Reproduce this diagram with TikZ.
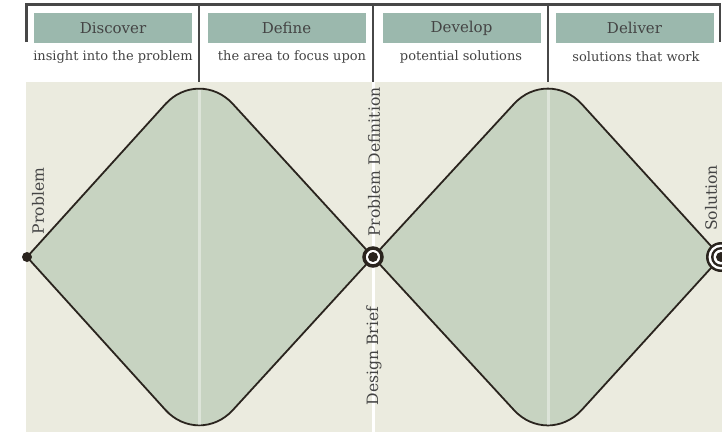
\documentclass[tikz,border=0pt]{standalone}
\usepackage{fontspec}
\setmainfont{DejaVu Serif}
\usepackage{xcolor}
\usetikzlibrary{calc}
\usetikzlibrary{positioning}
\definecolor{headgreen}{HTML}{9BB8AD}
\definecolor{leafgreen}{HTML}{C7D3C1}
\definecolor{paper}{HTML}{EBEBDF}
\definecolor{ink}{HTML}{444444}
\definecolor{rule}{HTML}{474747}
\definecolor{edge}{HTML}{2A241E}

\begin{document}
\begin{tikzpicture}[x=1pt,y=-1pt,
  phasebox/.style={fill=headgreen,minimum width=158pt,minimum height=30pt,inner sep=0pt,text=ink,font=\fontsize{15}{15}\selectfont},
  phasenote/.style={text=ink,inner sep=0pt,font=\fontsize{13}{13}\selectfont},
  sidelabel/.style={rotate=90,text=ink,inner sep=0pt,font=\fontsize{15.6}{15.6}\selectfont},
  stripe/.style={white,line width=3pt}]

  \useasboundingbox (0,0) rectangle (722,432);
  \fill[paper] (26,82) rectangle (722,432);
  \draw[stripe] (373,82) -- (373,432);

  % the two diamonds
  \foreach \l/\c/\r in {27/199/373,373/548/721} {
  \filldraw[fill=leafgreen,draw=edge,line width=1.8pt,line join=round] (\l,257) [rounded corners=50pt] -- (\c,67) [sharp corners]
  -- (\r,257) [rounded corners=50pt] -- (\c,447) [sharp corners] -- cycle;
  \draw[stripe,opacity=0.4] (\c,90) -- (\c,425);
  }

  % phase brackets
  \draw[rule,line width=2.5pt] (26.5,42) -- (26.5,4.5) -- (720,4.5) -- (720,42);
  \foreach \x in {199,373,548}
  \draw[rule,line width=2.5pt] (\x,4.5) -- (\x,82);

  \foreach \x/\n/\name/\title/\note in {113/113/discover/Discover/insight into the problem,
    286.5/292/define/Define/the area to focus upon,461.5/461/develop/Develop/potential solutions,
    634.5/636/deliver/Deliver/solutions that work} {
  \node[phasebox] (\name) at (\x,28) {\title};
  \node[phasenote] (\name-note) at (\n,57) {\note};
  }

  % markers
  \node[circle,fill=edge,minimum size=10pt,inner sep=0pt] (start) at (27,257) {};
  \node[circle,draw=edge,line width=3.5pt,fill=white,minimum size=18pt,inner sep=0pt] (mid) at (373,257) {};
  \fill[edge] (mid) circle (5pt);
  \coordinate (goal) at (721,257);
  \foreach \r/\c in {15/edge,12.5/white,10/edge,7.5/white,5/edge}
  \fill[\c] (goal) circle (\r pt);

  \node[sidelabel] (problem) at (38,201) {Problem};
  \node[sidelabel] (definition) at (374,162) {Problem Definition};
  \node[sidelabel] (brief) at (374,356) {Design Brief};
  \node[sidelabel] (solution) at (711,198) {Solution};
\end{tikzpicture}
\end{document}
